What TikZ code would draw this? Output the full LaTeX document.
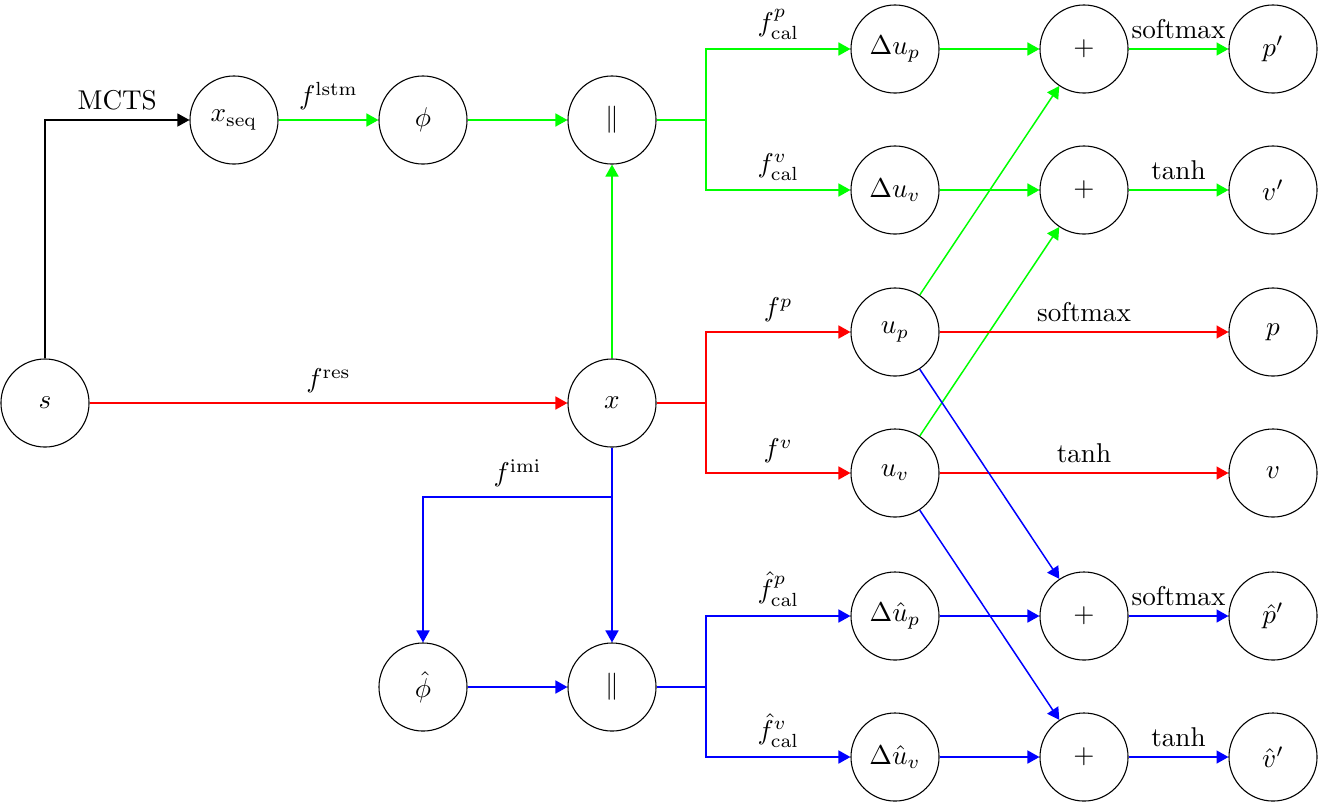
\documentclass[tikz,border=0pt]{standalone}
\usetikzlibrary{arrows.meta}
\begin{document}
\begin{tikzpicture}[x=0.368pt,y=-0.368pt,
  nd/.style={draw,circle,minimum size=32.4pt,inner sep=0pt},
  arr/.style={-{Triangle[length=4.4pt,width=4.8pt]}},
  gl/.style={draw=green,line width=0.55pt},
  rl/.style={draw=red,line width=0.55pt},
  bl/.style={draw=blue,line width=0.55pt},
  lbl/.style={above}]
\useasboundingbox (0,0) rectangle (1319,803);
% nodes
\node[nd] (s) at (45,403) {$s$};
\node[nd] (xseq) at (234,120) {$x_{\mathrm{seq}}$};
\node[nd] (phi) at (423,120) {$\phi$};
\node[nd] (cat1) at (612,120) {$\|$};
\node[nd] (x) at (612,403) {$x$};
\node[nd] (phih) at (423,687) {$\hat{\phi}$};
\node[nd] (cat2) at (612,687) {$\|$};
\node[nd] (dup) at (895,49) {$\Delta u_p$};
\node[nd] (duv) at (895,190) {$\Delta u_v$};
\node[nd] (up) at (895,332) {$u_p$};
\node[nd] (uv) at (895,473) {$u_v$};
\node[nd] (dhup) at (895,616) {$\Delta\hat{u}_p$};
\node[nd] (dhuv) at (895,757) {$\Delta\hat{u}_v$};
\node[nd] (pl1) at (1084,49) {$+$};
\node[nd] (pl2) at (1084,190) {$+$};
\node[nd] (pl3) at (1084,616) {$+$};
\node[nd] (pl4) at (1084,757) {$+$};
\node[nd] (pp) at (1273,49) {$p'$};
\node[nd] (vp) at (1273,190) {$v'$};
\node[nd] (p) at (1273,332) {$p$};
\node[nd] (v) at (1273,473) {$v$};
\node[nd] (php) at (1273,616) {$\hat{p}'$};
\node[nd] (vhp) at (1273,757) {$\hat{v}'$};
% branch coordinates
\coordinate (b1) at (706,120);
\coordinate (b2) at (706,403);
\coordinate (b3) at (706,687);
\coordinate (b4) at (612,497);
% black
\draw[arr] (s) |- node[lbl,pos=0.75]{MCTS} (xseq);
% green
\draw[arr,gl] (xseq) -- node[lbl]{$f^{\mathrm{lstm}}$} (phi);
\draw[arr,gl] (phi) -- (cat1);
\draw[arr,gl] (x) -- (cat1);
\draw[gl] (cat1) -- (b1);
\draw[arr,gl] (b1) |- node[lbl,pos=0.75]{$f^{p}_{\mathrm{cal}}$} (dup);
\draw[arr,gl] (b1) |- node[lbl,pos=0.75]{$f^{v}_{\mathrm{cal}}$} (duv);
\draw[arr,gl] (dup) -- (pl1);
\draw[arr,gl] (duv) -- (pl2);
\draw[arr,gl] (up) -- (pl1);
\draw[arr,gl] (uv) -- (pl2);
\draw[arr,gl] (pl1) -- node[lbl]{softmax} (pp);
\draw[arr,gl] (pl2) -- node[lbl]{tanh} (vp);
% red
\draw[arr,rl] (s) -- node[lbl]{$f^{\mathrm{res}}$} (x);
\draw[rl] (x) -- (b2);
\draw[arr,rl] (b2) |- node[lbl,pos=0.75]{$f^{p}$} (up);
\draw[arr,rl] (b2) |- node[lbl,pos=0.75]{$f^{v}$} (uv);
\draw[arr,rl] (up) -- node[lbl]{softmax} (p);
\draw[arr,rl] (uv) -- node[lbl]{tanh} (v);
% blue
\draw[bl] (x) -- (b4);
\draw[arr,bl] (b4) -| node[lbl,pos=0.25]{$f^{\mathrm{imi}}$} (phih);
\draw[arr,bl] (b4) -- (cat2);
\draw[arr,bl] (phih) -- (cat2);
\draw[bl] (cat2) -- (b3);
\draw[arr,bl] (b3) |- node[lbl,pos=0.75]{$\hat{f}^{p}_{\mathrm{cal}}$} (dhup);
\draw[arr,bl] (b3) |- node[lbl,pos=0.75]{$\hat{f}^{v}_{\mathrm{cal}}$} (dhuv);
\draw[arr,bl] (dhup) -- (pl3);
\draw[arr,bl] (dhuv) -- (pl4);
\draw[arr,bl] (up) -- (pl3);
\draw[arr,bl] (uv) -- (pl4);
\draw[arr,bl] (pl3) -- node[lbl]{softmax} (php);
\draw[arr,bl] (pl4) -- node[lbl]{tanh} (vhp);
\end{tikzpicture}
\end{document}
